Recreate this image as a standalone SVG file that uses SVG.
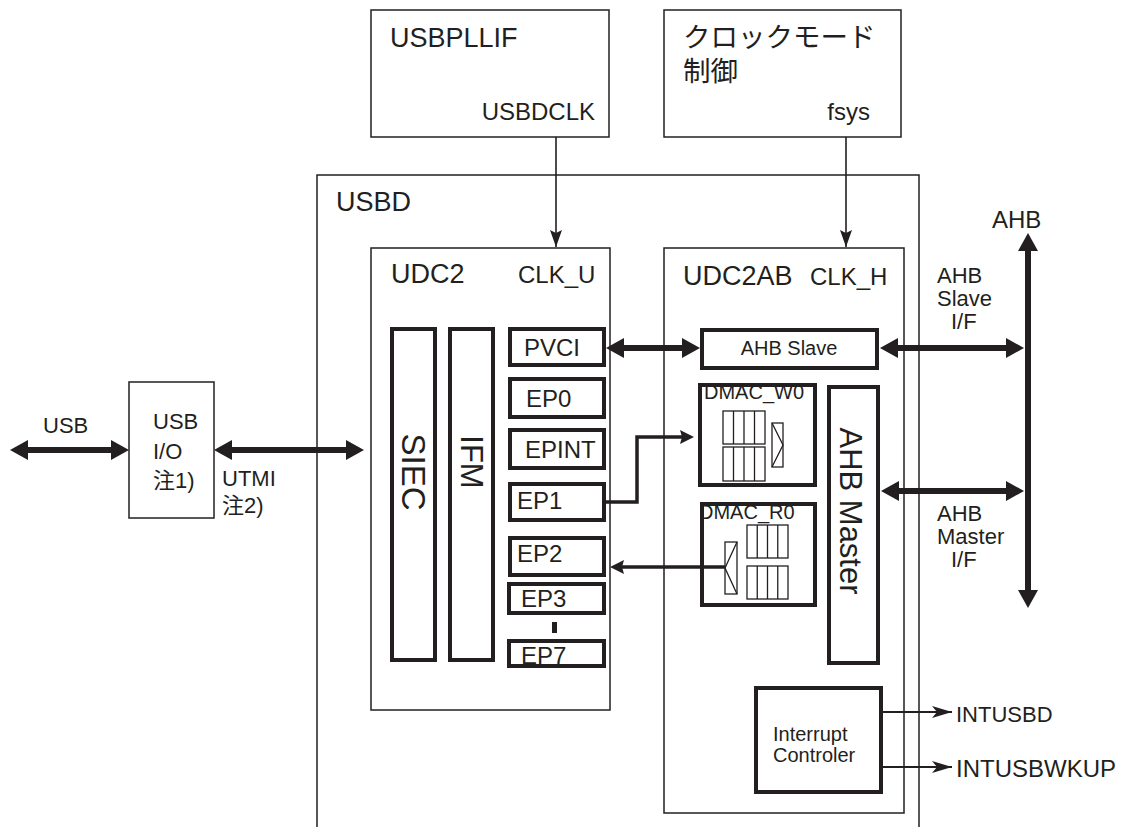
<svg xmlns="http://www.w3.org/2000/svg" width="1122" height="827" viewBox="0 0 1122 827">
<style>
.thin{fill:#fff;stroke:#231f20;stroke-width:1.5}
.thick{fill:#fff;stroke:#231f20;stroke-width:4}
.grid{fill:none;stroke:#231f20;stroke-width:1.3}
text{font-family:"Liberation Sans",Arial,"Noto Sans CJK JP",sans-serif;fill:#231f20}
.big{font-size:27px}
.med{font-size:24px}
.sm{font-size:22px}
.xs{font-size:20px}
.bus{stroke:#231f20;stroke-width:6;fill:none}
.mid{stroke:#231f20;stroke-width:3.5;fill:none}
.clk{stroke:#231f20;stroke-width:1.6;fill:none}
.int{stroke:#231f20;stroke-width:2;fill:none}
</style>
<defs>
<marker id="big" markerUnits="userSpaceOnUse" markerWidth="20" markerHeight="22" refX="8" refY="10" orient="auto-start-reverse" viewBox="0 0 20 22"><path d="M0,0 L18,10 L0,20 z" fill="#231f20"/></marker>
<marker id="midA" markerUnits="userSpaceOnUse" markerWidth="16" markerHeight="16" refX="9" refY="7" orient="auto" viewBox="0 0 16 16"><path d="M0,0 L14,7 L0,14 L2,7 z" fill="#231f20"/></marker>
<marker id="clkA" markerUnits="userSpaceOnUse" markerWidth="18" markerHeight="14" refX="17" refY="6" orient="auto" viewBox="0 0 18 14"><path d="M0,0 L17,6 L0,12 L3,6 z" fill="#231f20"/></marker>
<marker id="intA" markerUnits="userSpaceOnUse" markerWidth="22" markerHeight="14" refX="20" refY="6" orient="auto" viewBox="0 0 22 14"><path d="M0,0 L20,6 L0,12 L5,6 z" fill="#231f20"/></marker>
</defs>

<g id="usbpllif">
<rect class="thin" x="371" y="10" width="238" height="127"/>
<text class="big" x="390" y="47">USBPLLIF</text>
<text class="med" x="595" y="120" text-anchor="end">USBDCLK</text>
</g>
<g id="clockmode">
<rect class="thin" x="664" y="10" width="237" height="127"/>
<text x="683" y="47" style="font-size:27.5px">クロックモード</text>
<text x="683" y="81" style="font-size:27.5px">制御</text>
<text class="med" x="870" y="120" text-anchor="end">fsys</text>
</g>
<g id="usbd">
<rect class="thin" x="317" y="175" width="602" height="700"/>
<text class="big" x="336" y="211">USBD</text>
</g>
<g id="udc2">
<rect class="thin" x="371" y="248" width="239" height="462"/>
<text class="big" x="391" y="283">UDC2</text>
<text class="med" x="518" y="283">CLK_U</text>
</g>
<g id="udc2ab">
<rect class="thin" x="664" y="248" width="240" height="565"/>
<text class="big" x="683" y="285">UDC2AB</text>
<text class="med" x="810" y="285">CLK_H</text>
</g>
<g id="siec">
<rect class="thick" x="392" y="329" width="43" height="331"/>
<text transform="translate(402,472) rotate(90)" text-anchor="middle" style="font-size:33px">SIEC</text>
</g>
<g id="ifm">
<rect class="thick" x="450" y="329" width="43" height="331"/>
<text transform="translate(461,462) rotate(90)" text-anchor="middle" style="font-size:31px">IFM</text>
</g>
<g id="pvci">
<rect class="thick" x="510" y="329" width="94" height="36"/>
<text class="med" x="524" y="356">PVCI</text>
</g>
<g id="ep0">
<rect class="thick" x="510" y="379" width="94" height="38"/>
<text class="med" x="526" y="407">EP0</text>
</g>
<g id="epint">
<rect class="thick" x="510" y="430" width="94" height="38"/>
<text class="med" x="525" y="458">EPINT</text>
</g>
<g id="ep1">
<rect class="thick" x="510" y="484" width="94" height="36"/>
<text class="med" x="517" y="509">EP1</text>
</g>
<g id="ep2">
<rect class="thick" x="510" y="538" width="94" height="37"/>
<text class="med" x="517" y="562">EP2</text>
</g>
<g id="ep3">
<rect class="thick" x="509" y="584" width="95" height="29"/>
<text class="med" x="521" y="607">EP3</text>
</g>
<rect id="ep-dots" x="552" y="622" width="5" height="11" fill="#231f20"/>
<g id="ep7">
<rect class="thick" x="509" y="641" width="95" height="25"/>
<text class="med" x="521" y="664">EP7</text>
</g>
<g id="ahbslave">
<rect class="thick" x="702" y="330" width="175" height="38"/>
<text class="xs" x="789" y="355" text-anchor="middle">AHB Slave</text>
</g>
<g id="ahbmaster">
<rect class="thick" x="829" y="387" width="49" height="276"/>
<text transform="translate(840,511) rotate(90)" text-anchor="middle" style="font-size:31px">AHB Master</text>
</g>
<g id="dmac_w0">
<rect class="thick" x="700" y="385" width="115" height="100"/>
<text class="xs" x="704" y="399">DMAC_W0</text>
<rect class="grid" x="723" y="411" width="42" height="33"/>
<rect class="grid" x="723" y="447" width="42" height="34"/>
<path class="grid" d="M733.5,411 V444 M744,411 V444 M754.5,411 V444 M733.5,447 V481 M744,447 V481 M754.5,447 V481"/>
<rect class="grid" x="772" y="423" width="11" height="44"/>
<path class="grid" d="M772,423 L783,445 L772,467"/>
</g>
<g id="dmac_r0">
<rect class="thick" x="702" y="504" width="113" height="101"/>
<text class="xs" x="699" y="519">DMAC_R0</text>
<rect class="grid" x="747" y="525" width="41" height="33"/>
<rect class="grid" x="747" y="566" width="41" height="33"/>
<path class="grid" d="M757.25,525 V558 M767.5,525 V558 M777.75,525 V558 M757.25,566 V599 M767.5,566 V599 M777.75,566 V599"/>
<rect class="grid" x="725" y="542" width="12" height="52"/>
<path class="grid" d="M737,542 L725,568 L737,594"/>
</g>
<g id="intctrl">
<rect class="thick" x="756" y="688" width="125" height="104"/>
<text class="xs" x="773" y="741">Interrupt</text>
<text class="xs" x="773" y="762">Controler</text>
</g>
<g id="usbio">
<rect class="thin" x="129" y="382" width="85" height="136"/>
<text class="sm" x="153" y="429">USB</text>
<text class="sm" x="153" y="459">I/O</text>
<text class="sm" x="153" y="488">注1)</text>
</g>
<g id="labels">
<text class="sm" x="43" y="433">USB</text>
<text class="sm" x="222" y="486">UTMI</text>
<text class="sm" x="222" y="513">注2)</text>
<text class="med" x="992" y="228">AHB</text>
<text class="sm" x="937" y="283">AHB</text>
<text class="sm" x="937" y="306">Slave</text>
<text class="sm" x="951" y="329">I/F</text>
<text class="sm" x="937" y="521">AHB</text>
<text class="sm" x="937" y="544">Master</text>
<text class="sm" x="951" y="567">I/F</text>
<text class="sm" x="956" y="722">INTUSBD</text>
<text class="med" x="956" y="777">INTUSBWKUP</text>
</g>
<g id="connectors">
<line class="clk" x1="556" y1="137" x2="556" y2="247" marker-end="url(#clkA)"/>
<line class="clk" x1="846" y1="137" x2="846" y2="247" marker-end="url(#clkA)"/>
<line class="bus" x1="20" y1="450" x2="119" y2="450" marker-start="url(#big)" marker-end="url(#big)"/>
<line class="bus" x1="224" y1="450" x2="354" y2="450" marker-start="url(#big)" marker-end="url(#big)"/>
<line class="bus" x1="616" y1="348" x2="690" y2="348" marker-start="url(#big)" marker-end="url(#big)"/>
<line class="bus" x1="890" y1="348" x2="1014" y2="348" marker-start="url(#big)" marker-end="url(#big)"/>
<line class="bus" x1="891" y1="491" x2="1014" y2="491" marker-start="url(#big)" marker-end="url(#big)"/>
<line class="bus" x1="1028" y1="243" x2="1028" y2="598" marker-start="url(#big)" marker-end="url(#big)"/>
<polyline class="mid" points="604,502 637,502 637,437 689,437" marker-end="url(#midA)"/>
<line class="mid" x1="725" y1="567" x2="615" y2="567" marker-end="url(#midA)"/>
<line class="int" x1="881" y1="712" x2="952" y2="712" marker-end="url(#intA)"/>
<line class="int" x1="881" y1="767" x2="952" y2="767" marker-end="url(#intA)"/>
</g>
</svg>
